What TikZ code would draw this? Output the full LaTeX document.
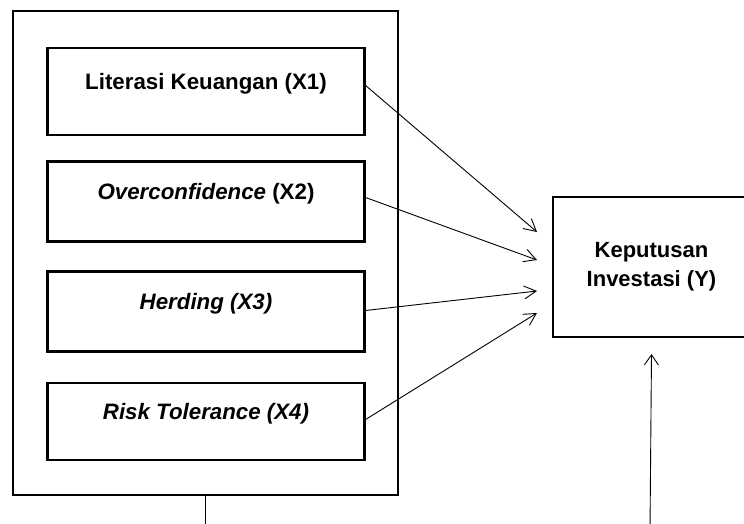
\documentclass[tikz,border=0pt]{standalone}
\usepackage{fontspec}
\setmainfont{Liberation Sans}
\usetikzlibrary{positioning,arrows.meta}
\tikzstyle{varbox} = [draw, line width=2.2pt, rectangle, minimum width=317pt, minimum height=80pt, font=\fontsize{22.3}{26}\selectfont\bfseries, text height=14pt, text depth=18pt]
\tikzstyle{arr} = [line width=0.9pt, -{Straight Barb[length=12pt,width=13pt,line width=0.9pt]}]

\begin{document}
\begin{tikzpicture}[x=1pt, y=-1pt, node distance=110pt]
        \useasboundingbox (0,0) rectangle (744,524);

        \node [draw, line width=2.2pt, rectangle, minimum width=385pt, minimum height=484pt] (frame) at (205.5,253) {};

        \node [varbox, minimum height=87pt] (lit) at (206,91.5) {Literasi Keuangan (X1)};
        \node [varbox, below of=lit] (over) {\textit{Overconfidence} (X2)};
        \node [varbox, below of=over] (herd) {\textit{Herding (X3)}};
        \node [varbox, minimum height=77pt, below of=herd] (risk) {\textit{Risk Tolerance (X4)}};

        \node [draw, line width=2.2pt, rectangle, minimum width=197pt, minimum height=140pt, align=center, font=\fontsize{22}{29}\selectfont\bfseries] (kep) at (651.5,267) {Keputusan\\Investasi (Y)};

        \coordinate (t1) at (537,232);
        \coordinate (t2) at (537,260);
        \coordinate (t3) at (537,291);
        \coordinate (t4) at (537,313);
        \draw[arr] ([yshift=6pt]lit.east)  -- (t1);
        \draw[arr] ([yshift=4pt]over.east) -- (t2);
        \draw[arr] ([yshift=1pt]herd.east) -- (t3);
        \draw[arr] ([yshift=2pt]risk.east) -- (t4);

        \coordinate (low1) at (205.5,530);
        \coordinate (low2) at (650,530);
        \draw[line width=0.9pt] (frame.south) -- (low1);
        \draw[arr, -{Straight Barb[length=10pt,width=14pt,line width=0.9pt]}] (low2) -- ([yshift=-16pt]kep.south);
    \end{tikzpicture}
\end{document}
